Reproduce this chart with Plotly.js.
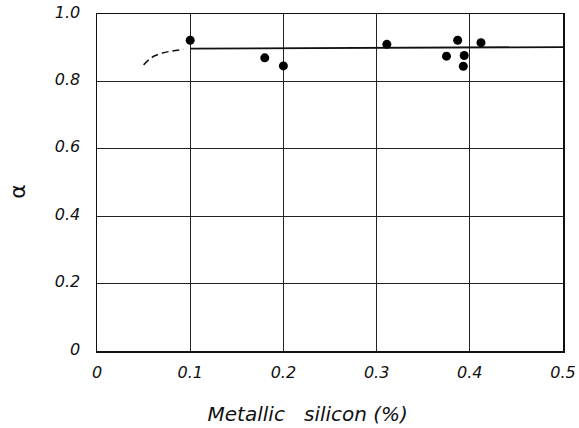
<!DOCTYPE html>
<html>
<head>
<meta charset="utf-8">
<script src="https://cdn.plot.ly/plotly-3.0.1.min.js"></script>
<style>html,body{margin:0;padding:0;background:#fff;}#chart{width:579px;height:428px;}</style>
</head>
<body>
<div id="chart"></div>
<script>
// Measured data points
const siX = [0.100, 0.180, 0.200, 0.311, 0.375, 0.387, 0.394, 0.393, 0.412];
const alphaY = [0.922, 0.870, 0.846, 0.910, 0.875, 0.922, 0.877, 0.845, 0.915];

// Solid fitted line
const lineX = [0.100, 0.200, 0.300, 0.400, 0.500];
const lineY = [0.897, 0.898, 0.899, 0.900, 0.902];

// Dashed extrapolation
const dashX = [0.050, 0.056, 0.062, 0.070, 0.080, 0.093];
const dashY = [0.849, 0.865, 0.876, 0.884, 0.890, 0.895];

const xTickVals = [0, 0.1, 0.2, 0.3, 0.4, 0.5];
const xTickText = ['0', '0.1', '0.2', '0.3', '0.4', '0.5'];
const yTickVals = [0, 0.2, 0.4, 0.6, 0.8, 1.0];
const yTickText = ['0', '0.2', '0.4', '0.6', '0.8', '1.0'];

const fam = 'DejaVu Sans, Liberation Sans, sans-serif';
const tickFont = {family: fam, size: 16, color: '#111', style: 'italic'};

const traces = [
  {x: dashX, y: dashY, mode: 'lines', line: {color: '#111', width: 1.5, dash: '7px,4px', shape: 'spline'}, hoverinfo: 'skip'},
  {x: lineX, y: lineY, mode: 'lines', line: {color: '#111', width: 1.8}, hoverinfo: 'skip'},
  {x: siX, y: alphaY, mode: 'markers', marker: {color: '#000', size: 9}}
];

const layout = {
  width: 579, height: 428,
  margin: {l: 97, r: 16, t: 14, b: 77},
  paper_bgcolor: '#fff', plot_bgcolor: '#fff',
  showlegend: false,
  xaxis: {
    range: [0, 0.5], tickvals: xTickVals, ticktext: xTickText,
    showgrid: true, gridcolor: '#222', gridwidth: 1,
    zeroline: false, showline: true, linecolor: '#111', linewidth: 1.5, mirror: true,
    ticks: '', tickfont: tickFont, ticklabelstandoff: 6,
    title: {text: 'Metallic&nbsp;&nbsp;&nbsp;silicon (%)&nbsp;&nbsp;&nbsp;&nbsp;&nbsp;&nbsp;&nbsp;', font: {family: fam, size: 20, color: '#111', style: 'italic'}, standoff: 26}
  },
  yaxis: {
    range: [0, 1.0], tickvals: yTickVals, ticktext: yTickText,
    showgrid: true, gridcolor: '#222', gridwidth: 1,
    zeroline: false, showline: true, linecolor: '#111', linewidth: 1.5, mirror: true,
    ticks: '', tickfont: tickFont, ticklabelstandoff: 12, ticklabelshift: -2
  },
  annotations: [
    {text: 'α', xref: 'paper', yref: 'paper', x: -0.17, y: 0.475, xanchor: 'center', yanchor: 'middle',
     textangle: -90, showarrow: false, font: {family: fam, size: 22, color: '#111'}}
  ]
};

Plotly.newPlot('chart', traces, layout, {staticPlot: true, displayModeBar: false});
</script>
</body>
</html>
